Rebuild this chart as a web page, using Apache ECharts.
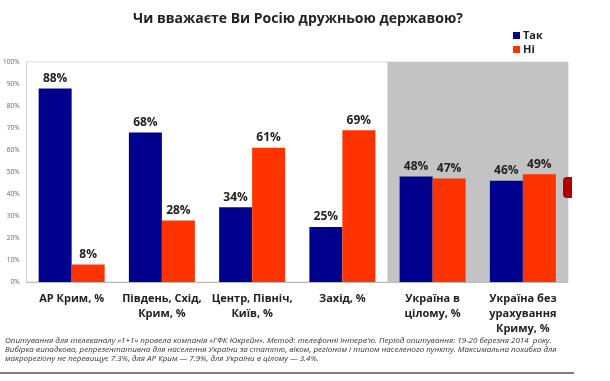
<!DOCTYPE html>
<html><head><meta charset="utf-8">
<script src="https://cdn.jsdelivr.net/npm/echarts@6/dist/echarts.min.js"></script>
<style>html,body{margin:0;padding:0;background:#fff}#c{width:610px;height:381px}</style>
</head><body><div id="c"></div>
<script>
const categories = ['АР Крим, %', 'Південь, Схід,\nКрим, %', 'Центр, Північ,\nКиїв, %', 'Захід, %', 'Україна в\nцілому, %', 'Україна без\nурахування\nКриму, %'];
const seriesNames = ['Так', 'Ні'];
const takValues = [88, 68, 34, 25, 48, 46];
const niValues = [8, 28, 61, 69, 47, 49];
const yTicks = [0, 100, 10];
const titleText = 'Чи вважаєте Ви Росію дружньою державою?';
const footnoteLines = [
  'Опитування для телеканалу «1+1» провела компанія «ГФК Юкрейн». Метод: телефонні інтерв\'ю. Період опитування: 19-20 березня 2014  року.',
  'Вибірка випадкова, репрезентативна для населення України за статтю, віком, регіоном і типом населеного пункту. Максимальна похибка для',
  'макрорегіону не перевищує 7.3%, для АР Крим — 7.9%, для України в цілому — 3.4%.'
];
const shadedRange = [4, 6];

const chart = echarts.init(document.getElementById('c'), null, {renderer: 'canvas'});
const font = 'Open Sans';
const barLabel = {show: true, position: 'top', distance: 4, formatter: '{c}%', fontFamily: font, fontWeight: 'bold', fontSize: 12, color: '#222'};
chart.setOption({
  animation: false,
  textStyle: {fontFamily: font},
  grid: {left: 25, right: 42, top: 62, bottom: 99, show: true, borderColor: '#d8d8d8', borderWidth: 1},
  legend: {
    orient: 'vertical', left: 508, top: 25, itemWidth: 7, itemHeight: 7, itemGap: 3,
    icon: 'rect', data: seriesNames,
    textStyle: {fontFamily: font, fontWeight: 'bold', fontSize: 11, color: '#222', padding: [0, 0, 0, -2]}
  },
  xAxis: [{
    type: 'category', data: categories,
    axisLine: {lineStyle: {color: '#bbb'}}, axisTick: {show: false},
    axisLabel: {interval: 0, margin: 9, fontFamily: font, fontWeight: 'bold', fontSize: 11, lineHeight: 15, color: '#222'}
  }, {
    type: 'value', min: 0, max: categories.length, show: false
  }],
  yAxis: {
    type: 'value', min: yTicks[0], max: yTicks[1], interval: yTicks[2],
    axisLine: {show: true, lineStyle: {color: '#d0d0d0'}}, axisTick: {show: false}, splitLine: {show: false},
    axisLabel: {formatter: '{value}%', fontSize: 6.5, color: '#666', margin: 7, fontFamily: font}
  },
  series: [
    {type: 'line', xAxisIndex: 1, data: [], silent: true, z: 0,
      markArea: {silent: true, itemStyle: {color: '#c3c3c3'}, data: [[{xAxis: shadedRange[0]}, {xAxis: shadedRange[1]}]]}},
    {name: seriesNames[0], type: 'bar', data: takValues, barWidth: 33, barGap: '0%', z: 3,
      itemStyle: {color: '#00008f'}, label: barLabel},
    {name: seriesNames[1], type: 'bar', data: niValues, barWidth: 33, barGap: '0%', z: 3,
      itemStyle: {color: '#ff3300'}, label: barLabel}
  ],
  graphic: [
    {type: 'text', left: 133, top: 12, style: {text: titleText, fontFamily: font, fontWeight: 'bold', fontSize: 14, fill: '#222'}},
    {type: 'rect', left: 563, top: 177, z: 10, shape: {width: 9, height: 21, r: [4, 0, 0, 4]}, style: {fill: '#b00000'}},
    {type: 'group', left: 5, top: 337, children: footnoteLines.map((t, i) => ({
      type: 'text', x: 0, y: i * 8.7, style: {text: t, fontFamily: font, fontStyle: 'italic', fontSize: 8, fill: '#333'}
    }))},
    {type: 'line', shape: {x1: 0, y1: 373, x2: 574, y2: 373}, style: {stroke: '#555', lineWidth: 1.5}}
  ]
});
</script></body></html>
